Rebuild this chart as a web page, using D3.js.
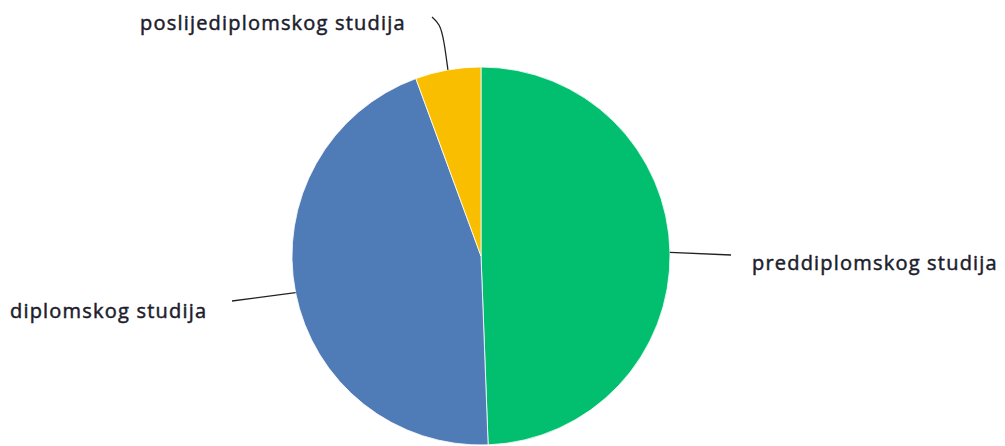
<!DOCTYPE html>
<html>
<head>
<meta charset="utf-8">
<script src="https://cdn.jsdelivr.net/npm/d3@7"></script>
<style>
  body { margin: 0; background: #fff; }
  text { font-family: "Open Sans", sans-serif; font-size: 20px; letter-spacing: 1.2px; fill: #1c1c2c; stroke: #1c1c2c; stroke-width: 0.5px; }
</style>
</head>
<body>
<script>
  // kategorije i udjeli (%)
  const categories = ['preddiplomskog studija', 'diplomskog studija', 'poslijediplomskog studija'];
  const values = [49.4, 45.0, 5.6];
  const colors = ['#02bf6f', '#4f7bb6', '#f9be00'];

  const width = 1005, height = 446;
  const cx = 481, cy = 256, r = 189;

  const svg = d3.select('body').append('svg')
    .attr('width', width).attr('height', height);

  const data = categories.map((c, i) => ({ name: c, value: values[i], color: colors[i] }));

  const pie = d3.pie().sort(null).value(d => d.value);
  const arcs = pie(data);
  const arcGen = d3.arc().innerRadius(0).outerRadius(r);

  const g = svg.append('g').attr('transform', `translate(${cx},${cy})`);

  g.selectAll('path.slice')
    .data(arcs)
    .enter().append('path')
    .attr('class', 'slice')
    .attr('d', arcGen)
    .style('fill', d => d.data.color)
    .style('stroke', '#fff')
    .style('stroke-width', 0.8);

  // oznake: pomak kraja linije i položaj teksta (relativno na središte)
  const labelPos = [
    { end: [250, -1], text: [271, 14] },
    { end: [-249, 45], text: [-471, 62] },
    { end: [-49, -239], text: [-341, -226] }
  ];

  arcs.forEach((a, i) => {
    const mid = (a.startAngle + a.endAngle) / 2;
    const p0 = [Math.sin(mid) * r, -Math.cos(mid) * r];
    const lp = labelPos[i];
    let pts;
    if (i === 2) {
      pts = [p0, [p0[0] - 4, p0[1] - 30], [p0[0] - 8, p0[1] - 46], lp.end];
    } else {
      pts = [p0, lp.end];
    }
    g.append('path')
      .attr('d', d3.line().curve(d3.curveBasis)(pts))
      .style('fill', 'none')
      .style('stroke', '#222')
      .style('stroke-width', 1.3);

    g.append('text')
      .attr('x', lp.text[0])
      .attr('y', lp.text[1])
      .text(a.data.name);
  });
</script>
</body>
</html>
